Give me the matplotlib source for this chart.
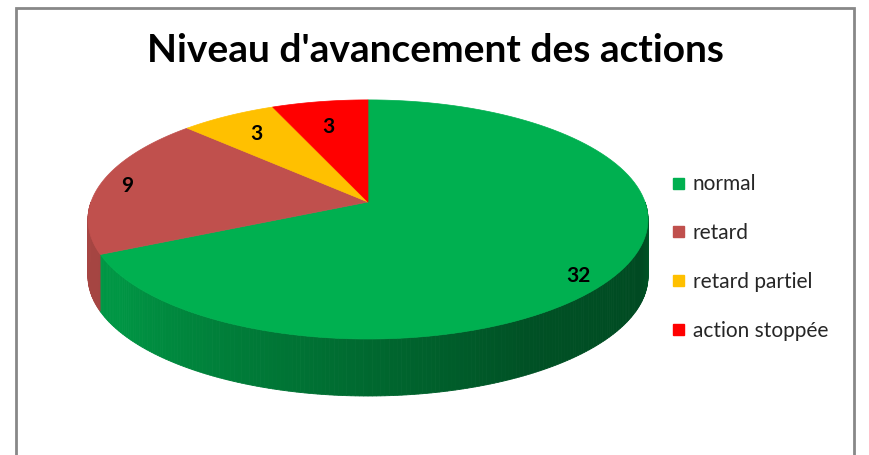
import numpy as np
import matplotlib.pyplot as plt
from matplotlib.colors import to_rgb

categories = ['normal', 'retard', 'retard partiel', 'action stoppée']
values = [32, 9, 3, 3]
colors = ['#00B050', '#C0504D', '#FFC000', '#FF0000']
title = "Niveau d'avancement des actions"

# pixel-like frame for the drawing
W, H = 870, 456
CX, CY = 368, 203      # apex of the pie on screen
RX, RY = 277, 117      # radii of the top face
K = 0.146              # rough perspective
DEPTH = 57

# label placement (radius fraction, extra vertical shift in px)
label_r = [0.84, 0.9, 0.78, 0.8]
label_dy = [16, 0, 0, 6]


def project(r, t):
    # t in radians, clockwise from 12 o'clock
    u, v = r * np.sin(t), r * np.cos(t)
    s = 1 + K * v
    return CX + RX * u / s, CY - RY * v / s


def shade(t):
    # light on the left of the wall, darkest toward lower right
    deg = np.degrees(t)
    return np.interp(deg, [90, 112, 150, 190, 235, 270], [0.55, 0.42, 0.46, 0.64, 0.85, 0.87])


def main():
    plt.rcParams['font.family'] = ['Lato', 'DejaVu Sans']
    fig = plt.figure(figsize=(W / 100, H / 100), dpi=100)
    ax = fig.add_axes([0, 0, 1, 1])
    ax.set_xlim(0, W)
    ax.set_ylim(H, 0)
    ax.axis('off')

    total = float(sum(values))
    bounds = np.concatenate([[0], np.cumsum(values)]) / total * 2 * np.pi

    # side wall (front half only)
    ts = np.linspace(np.pi / 2, 3 * np.pi / 2, 241)
    for a, b in zip(ts[:-1], ts[1:]):
        m = 0.5 * (a + b)
        idx = np.searchsorted(bounds, m) - 1
        c = np.array(to_rgb(colors[idx])) * shade(m)
        x1, y1 = project(1, a)
        x2, y2 = project(1, b)
        ax.fill([x1, x2, x2, x1], [y1, y2, y2 + DEPTH, y1 + DEPTH],
                color=c, lw=0.6, ec=c, zorder=1)

    # top face
    for i in range(len(values)):
        t = np.linspace(bounds[i], bounds[i + 1], 120)
        px, py = project(1, t)
        ax.fill(np.r_[CX, px], np.r_[CY, py], color=colors[i], lw=0.5, ec=colors[i], zorder=2)

    # data labels
    for i, val in enumerate(values):
        mid = 0.5 * (bounds[i] + bounds[i + 1])
        lx, ly = project(label_r[i], mid)
        ax.text(lx, ly + label_dy[i], str(val), ha='center', va='center', fontsize=15,
                fontweight='bold', color='#000000', zorder=3)

    # title
    ax.text(435, 50, title, ha='center', va='center', fontsize=28,
            fontweight='bold', color='#000000')

    # legend
    for i, name in enumerate(categories):
        y = 184 + i * 48.9
        ax.add_patch(plt.Rectangle((673, y - 5.5), 11, 11, color=colors[i], zorder=3))
        ax.text(693, y, name, ha='left', va='center', fontsize=15, color='#262626')

    # chart frame (bottom edge cut off)
    ax.plot([16, 16, 854, 854], [H + 5, 9, 9, H + 5], color='#888888', lw=2, solid_joinstyle='miter')

    fig.savefig('out.png', dpi=100)


if __name__ == "__main__":
    main()
